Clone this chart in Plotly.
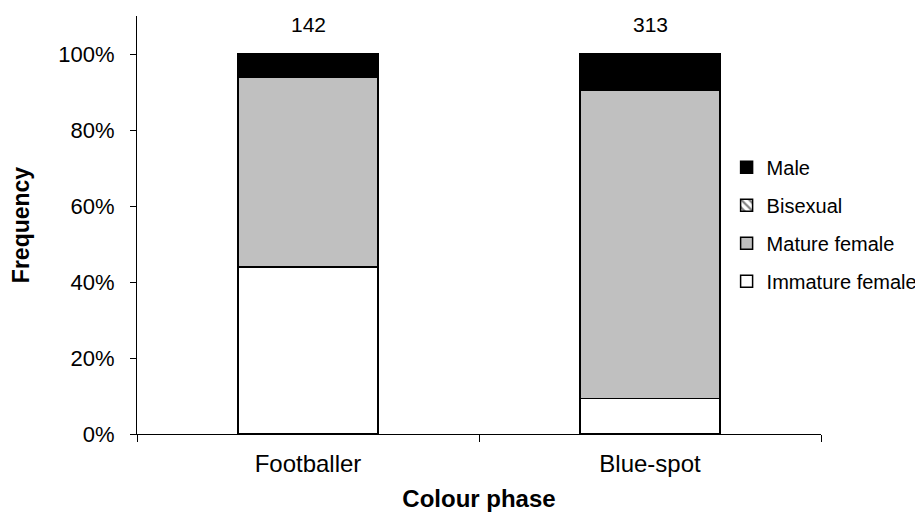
import plotly.graph_objects as go

categories = ["Footballer", "Blue-spot"]
totals = [142, 313]
immature_female = [0.439, 0.093]
mature_female = [0.500, 0.811]
bisexual = [0.0, 0.0]
male = [0.061, 0.096]

FONT = "Liberation Sans, Arial, sans-serif"
LINE = dict(color="black", width=1.5)

fig = go.Figure()
fig.add_trace(go.Bar(name="Immature female", x=categories, y=immature_female,
                     legendgroup="d", legendrank=4,
                     marker=dict(color="white", line=LINE)))
fig.add_trace(go.Bar(name="Mature female", x=categories, y=mature_female,
                     legendgroup="c", legendrank=3,
                     marker=dict(color="#C0C0C0", line=LINE)))
fig.add_trace(go.Bar(name="Bisexual", x=categories, y=bisexual,
                     legendgroup="b", legendrank=2,
                     marker=dict(color="white", line=LINE,
                                 pattern=dict(shape="\\", fgcolor="black", bgcolor="white",
                                              size=7, solidity=0.4))))
fig.add_trace(go.Bar(name="Male", x=categories, y=male,
                     legendgroup="a", legendrank=1,
                     marker=dict(color="black", line=LINE)))

for c, t in zip(categories, totals):
    fig.add_annotation(x=c, y=1.0, text=str(t), showarrow=False, yanchor="bottom",
                       yshift=16, font=dict(family=FONT, size=21, color="black"))

fig.update_layout(
    barmode="stack",
    bargap=0.59,
    width=923, height=521,
    margin=dict(l=129, r=100, t=8, b=95),
    paper_bgcolor="white", plot_bgcolor="white",
    font=dict(family=FONT, size=20, color="black"),
    legend=dict(traceorder="grouped", x=0.862, xanchor="left", y=0.502, yanchor="middle",
                font=dict(family=FONT, size=20, color="black"), itemwidth=30,
                bgcolor="rgba(0,0,0,0)", tracegroupgap=9),
    xaxis=dict(
        type="category", tickson="boundaries", ticks="outside", ticklen=7,
        tickcolor="black", showline=True, linecolor="black", linewidth=1,
        tickfont=dict(family=FONT, size=24), ticklabelstandoff=8,
        title=dict(text="<b>Colour phase</b>", font=dict(family=FONT, size=24), standoff=14),
    ),
    yaxis=dict(
        range=[0, 1.1], dtick=0.2, tickformat=".0%", ticks="outside", ticklen=6,
        tickcolor="black", showline=True, linecolor="black", linewidth=1,
        showgrid=False, zeroline=False,
        tickfont=dict(family=FONT, size=22), ticklabelstandoff=11,
        title=dict(text="<b>Frequency</b>", font=dict(family=FONT, size=23), standoff=22),
    ),
)

fig.write_html("out.html")
